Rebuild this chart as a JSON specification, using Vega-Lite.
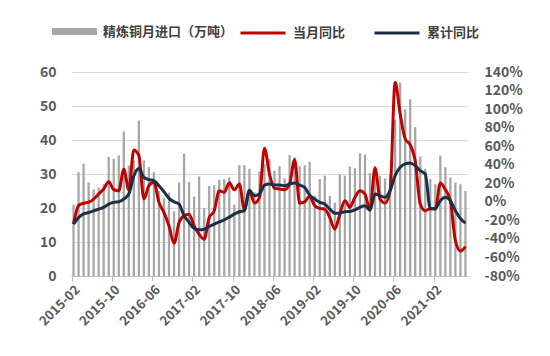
{
  "$schema": "https://vega.github.io/schema/vega-lite/v6.json",
  "width": 397,
  "height": 204,
  "autosize": {"type": "none"},
  "padding": {"left": 71, "top": 72, "right": 82, "bottom": 80},
  "background": "white",
  "config": {"view": {"stroke": null}, "font": "Noto Sans CJK SC"},
  "data": {
    "values": [
      {"m": "2015-02", "imp": 21, "当月同比": -24, "累计同比": -24},
      {"m": "2015-03", "imp": 30.5, "当月同比": -4, "累计同比": -17},
      {"m": "2015-04", "imp": 33, "当月同比": -1.5, "累计同比": -13},
      {"m": "2015-05", "imp": 27.5, "当月同比": -0.5, "累计同比": -11.5},
      {"m": "2015-06", "imp": 25.5, "当月同比": 3, "累计同比": -9.7},
      {"m": "2015-07", "imp": 26, "当月同比": 8.4, "累计同比": -7.9},
      {"m": "2015-08", "imp": 27, "当月同比": 13.8, "累计同比": -6},
      {"m": "2015-09", "imp": 35, "当月同比": 21.7, "累计同比": -2.4},
      {"m": "2015-10", "imp": 34.5, "当月同比": 13, "累计同比": -0.6},
      {"m": "2015-11", "imp": 35.5, "当月同比": 12, "累计同比": 0},
      {"m": "2015-12", "imp": 42.5, "当月同比": 35, "累计同比": 3},
      {"m": "2016-01", "imp": 32.5, "当月同比": 13, "累计同比": 8.4},
      {"m": "2016-02", "imp": 34, "当月同比": 56, "累计同比": 28},
      {"m": "2016-03", "imp": 45.7, "当月同比": 50, "累计同比": 36},
      {"m": "2016-04", "imp": 34, "当月同比": 3, "累计同比": 26.4},
      {"m": "2016-05", "imp": 32, "当月同比": 17.4, "累计同比": 24},
      {"m": "2016-06", "imp": 30.5, "当月同比": 21, "累计同比": 22.8},
      {"m": "2016-07", "imp": 25, "当月同比": -0.6, "累计同比": 17.4},
      {"m": "2016-08", "imp": 23, "当月同比": -11.5, "累计同比": 10.9},
      {"m": "2016-09", "imp": 24.5, "当月同比": -26, "累计同比": 3.7},
      {"m": "2016-10", "imp": 19, "当月同比": -44.7, "累计同比": 0},
      {"m": "2016-11", "imp": 27.5, "当月同比": -22.3, "累计同比": -2.4},
      {"m": "2016-12", "imp": 36, "当月同比": -15, "累计同比": -15},
      {"m": "2017-01", "imp": 27.7, "当月同比": -13.3, "累计同比": -22},
      {"m": "2017-02", "imp": 23.4, "当月同比": -26, "累计同比": -28.8},
      {"m": "2017-03", "imp": 29.3, "当月同比": -35, "累计同比": -30.2},
      {"m": "2017-04", "imp": 20, "当月同比": -40.3, "累计同比": -29.5},
      {"m": "2017-05", "imp": 26.5, "当月同比": -17, "累计同比": -26.6},
      {"m": "2017-06", "imp": 26.7, "当月同比": -9.7, "累计同比": -24},
      {"m": "2017-07", "imp": 28.3, "当月同比": 12, "累计同比": -21.6},
      {"m": "2017-08", "imp": 28.5, "当月同比": 10.2, "累计同比": -19.5},
      {"m": "2017-09", "imp": 29, "当月同比": 20.5, "累计同比": -16.5},
      {"m": "2017-10", "imp": 21, "当月同比": 13, "累计同比": -13.3},
      {"m": "2017-11", "imp": 32.6, "当月同比": 19.2, "累计同比": -10.7},
      {"m": "2017-12", "imp": 32.6, "当月同比": -8.6, "累计同比": -9.7},
      {"m": "2018-01", "imp": 31.5, "当月同比": 12, "累计同比": 12.5},
      {"m": "2018-02", "imp": 24.6, "当月同比": -1.4, "累计同比": 6.6},
      {"m": "2018-03", "imp": 30.7, "当月同比": 4.8, "累计同比": 8.4},
      {"m": "2018-04", "imp": 33, "当月同比": 57.8, "累计同比": 18.1},
      {"m": "2018-05", "imp": 34.4, "当月同比": 30, "累计同比": 19.2},
      {"m": "2018-06", "imp": 31, "当月同比": 14.5, "累计同比": 18.1},
      {"m": "2018-07", "imp": 32.3, "当月同比": 13.8, "累计同比": 18.1},
      {"m": "2018-08", "imp": 28.7, "当月同比": 13, "累计同比": 17.4},
      {"m": "2018-09", "imp": 35.6, "当月同比": 19.2, "累计同比": 19.2},
      {"m": "2018-10", "imp": 34.9, "当月同比": 45.5, "累计同比": 20.3},
      {"m": "2018-11", "imp": 32.3, "当月同比": -1.4, "累计同比": 18.1},
      {"m": "2018-12", "imp": 32.6, "当月同比": 0, "累计同比": 15.6},
      {"m": "2019-01", "imp": 33.6, "当月同比": 6, "累计同比": 7},
      {"m": "2019-02", "imp": 23.6, "当月同比": -4.3, "累计同比": 3},
      {"m": "2019-03", "imp": 28.5, "当月同比": -7.1, "累计同比": -0.6},
      {"m": "2019-04", "imp": 29.5, "当月同比": -7.9, "累计同比": -2.4},
      {"m": "2019-05", "imp": 23.6, "当月同比": -16.9, "累计同比": -7.9},
      {"m": "2019-06", "imp": 21.6, "当月同比": -29.5, "累计同比": -12.2},
      {"m": "2019-07", "imp": 29.9, "当月同比": -13.3, "累计同比": -12.2},
      {"m": "2019-08", "imp": 29.5, "当月同比": 1.2, "累计同比": -10.7},
      {"m": "2019-09", "imp": 32.2, "当月同比": -6, "累计同比": -10.4},
      {"m": "2019-10", "imp": 31.7, "当月同比": 4.8, "累计同比": -8.6},
      {"m": "2019-11", "imp": 36.1, "当月同比": 12, "累计同比": -6},
      {"m": "2019-12", "imp": 35.7, "当月同比": 8.4, "累计同比": -4.3},
      {"m": "2020-01", "imp": 30.3, "当月同比": -8.5, "累计同比": -9},
      {"m": "2020-02", "imp": 32.3, "当月同比": 36.5, "累计同比": 8.4},
      {"m": "2020-03", "imp": 29.5, "当月同比": 3, "累计同比": 6.6},
      {"m": "2020-04", "imp": 28.7, "当月同比": -1.4, "累计同比": 4.8},
      {"m": "2020-05", "imp": 30, "当月同比": 12, "累计同比": 12},
      {"m": "2020-06", "imp": 46, "当月同比": 129, "累计同比": 28.2},
      {"m": "2020-07", "imp": 56.8, "当月同比": 95, "累计同比": 37.2},
      {"m": "2020-08", "imp": 49, "当月同比": 68, "累计同比": 40.8},
      {"m": "2020-09", "imp": 52, "当月同比": 61.4, "累计同比": 41.9},
      {"m": "2020-10", "imp": 43.8, "当月同比": 44.4, "累计同比": 39},
      {"m": "2020-11", "imp": 35.2, "当月同比": -2.4, "累计同比": 33.6},
      {"m": "2020-12", "imp": 31.5, "当月同比": -9.7, "累计同比": 30},
      {"m": "2021-01", "imp": 28.5, "当月同比": -7.1, "累计同比": -7.5},
      {"m": "2021-02", "imp": 27, "当月同比": -7.9, "累计同比": -7.1},
      {"m": "2021-03", "imp": 35.4, "当月同比": 20.3, "累计同比": 1.2},
      {"m": "2021-04", "imp": 32, "当月同比": 13, "累计同比": 4.8},
      {"m": "2021-05", "imp": 29, "当月同比": 1.2, "累计同比": 1.2},
      {"m": "2021-06", "imp": 27.5, "当月同比": -42, "累计同比": -9.7},
      {"m": "2021-07", "imp": 27, "当月同比": -53, "累计同比": -18},
      {"m": "2021-08", "imp": 25, "当月同比": -48.3, "累计同比": -23}
    ]
  },
  "layer": [
    {
      "mark": {"type": "bar"},
      "encoding": {
        "x": {
          "field": "m", "type": "ordinal", "sort": null,
          "scale": {"paddingInner": 0.55, "paddingOuter": 0.28},
          "axis": {
            "title": null,
            "values": ["2015-02", "2015-10", "2016-06", "2017-02", "2017-10", "2018-06", "2019-02", "2019-10", "2020-06", "2021-02"],
            "labelAngle": -45,
            "bandPosition": 0,
            "tickSize": 5,
            "tickColor": "#bfbfbf",
            "domainColor": "#bfbfbf",
            "labelFontSize": 13,
            "labelFontWeight": "bold",
            "labelColor": "#595959",
            "labelPadding": 2
          }
        },
        "y": {
          "field": "imp", "type": "quantitative",
          "scale": {"domain": [0, 60], "nice": false},
          "axis": {
            "title": null,
            "values": [0, 10, 20, 30, 40, 50, 60],
            "grid": true,
            "gridColor": "#d9d9d9",
            "domain": false,
            "ticks": false,
            "labelPadding": 15,
            "labelFontSize": 14,
            "labelFontWeight": "bold",
            "labelColor": "#595959"
          }
        },
        "color": {
          "datum": "精炼铜月进口（万吨）", "type": "nominal",
          "scale": {"range": ["#a6a6a6"]},
          "legend": {
            "title": null,
            "orient": "none",
            "legendX": -19,
            "legendY": -63,
            "symbolType": "M-1,-0.155H1V0.155H-1Z",
            "symbolSize": 2025,
            "symbolStrokeWidth": 0,
            "symbolOpacity": 1,
            "labelOffset": 6,
            "labelFontSize": 13,
            "labelFontWeight": "bold",
            "labelColor": "#404040"
          }
        }
      }
    },
    {
      "transform": [{"fold": ["当月同比", "累计同比"], "as": ["s", "v"]}],
      "mark": {"type": "line", "strokeWidth": 3, "interpolate": "monotone"},
      "encoding": {
        "x": {"field": "m", "type": "ordinal", "sort": null},
        "y": {
          "field": "v", "type": "quantitative",
          "scale": {"domain": [-80, 140], "nice": false},
          "axis": {
            "orient": "right",
            "title": null,
            "values": [-80, -60, -40, -20, 0, 20, 40, 60, 80, 100, 120, 140],
            "labelExpr": "datum.value + '%'",
            "grid": false,
            "domain": false,
            "ticks": false,
            "labelPadding": 16,
            "labelFontSize": 14,
            "labelFontWeight": "bold",
            "labelColor": "#595959"
          }
        },
        "stroke": {
          "field": "s", "type": "nominal",
          "scale": {"domain": ["当月同比", "累计同比"], "range": ["#c00000", "#1b2f47"]},
          "legend": {
            "title": null,
            "orient": "none",
            "legendX": 168,
            "legendY": -63,
            "direction": "horizontal",
            "symbolType": "stroke",
            "symbolSize": 2025,
            "symbolStrokeWidth": 3,
            "columnPadding": 22,
            "labelOffset": 6,
            "labelFontSize": 13,
            "labelFontWeight": "bold",
            "labelColor": "#404040"
          }
        }
      }
    }
  ],
  "resolve": {"scale": {"y": "independent"}}
}
